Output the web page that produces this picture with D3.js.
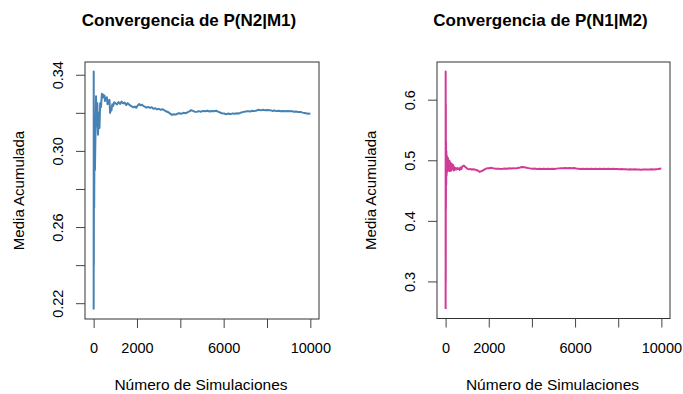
<!DOCTYPE html>
<html>
<head>
<meta charset="utf-8">
<script src="https://cdn.jsdelivr.net/npm/d3@7"></script>
<style>
  html, body { margin: 0; padding: 0; background: #fff; }
  svg { display: block; font-family: "Liberation Sans", Arial, sans-serif; }
</style>
</head>
<body>
<svg id="chart" width="683" height="394"></svg>
<script>
// Running mean of P(N2|M1) by number of simulations
const simsN2M1 = [1, 3, 8, 15, 25, 40, 60, 80, 110, 140, 170, 200, 240, 270, 300, 340, 380, 420, 450, 470, 500, 520, 550, 580, 610, 640, 670, 700, 730, 760, 790, 820, 860, 900, 950,
  1000, 1080, 1150, 1220, 1290, 1360, 1430, 1500, 1570, 1640, 1700, 1760, 1830, 1900, 1960, 2030, 2100, 2160, 2230, 2300, 2370, 2440, 2520, 2600, 2680, 2760, 2850, 2930,
  3010, 3100, 3190, 3280, 3370, 3450, 3530, 3620, 3700, 3790, 3870, 3960, 4050, 4140, 4230, 4320, 4420, 4500, 4580, 4660, 4760, 4850, 4950,
  5050, 5150, 5250, 5350, 5450, 5550, 5650, 5740, 5830, 5920, 6020, 6120, 6220, 6320, 6420, 6520, 6620, 6720, 6820, 6920,
  7020, 7120, 7220, 7320, 7420, 7520, 7620, 7720, 7820, 7920, 8020, 8140, 8240, 8340, 8440, 8540, 8640, 8740, 8840, 8940,
  9040, 9140, 9240, 9340, 9440, 9540, 9640, 9740, 9840, 9920, 10000];
const meanN2M1 = [0.2167, 0.3417, 0.2400, 0.3000, 0.2700, 0.3100, 0.2900, 0.3050, 0.3287, 0.3130, 0.3250, 0.3085, 0.3200, 0.3120, 0.3250, 0.3230, 0.3300, 0.3280, 0.3295, 0.3285, 0.3290, 0.3262, 0.3278, 0.3270, 0.3282, 0.3245, 0.3265, 0.3255, 0.3268, 0.3200, 0.3225, 0.3212, 0.3245, 0.3236, 0.3255,
  0.3252, 0.3244, 0.3256, 0.3247, 0.3259, 0.3249, 0.3254, 0.3241, 0.3251, 0.3243, 0.3238, 0.3234, 0.3229, 0.3233, 0.3226, 0.3238, 0.3246, 0.3240, 0.3243, 0.3235, 0.3232, 0.3227, 0.3231, 0.3226, 0.3229, 0.3221, 0.3224, 0.3218,
  0.3221, 0.3216, 0.3219, 0.3212, 0.3207, 0.3203, 0.3196, 0.3189, 0.3193, 0.3191, 0.3196, 0.3198, 0.3195, 0.3200, 0.3198, 0.3202, 0.3208, 0.3214, 0.3210, 0.3206, 0.3205, 0.3209, 0.3206,
  0.3210, 0.3208, 0.3211, 0.3207, 0.3210, 0.3208, 0.3211, 0.3206, 0.3202, 0.3198, 0.3196, 0.3193, 0.3196, 0.3193, 0.3197, 0.3195, 0.3198, 0.3197, 0.3202, 0.3205,
  0.3207, 0.3209, 0.3207, 0.3211, 0.3209, 0.3212, 0.3216, 0.3213, 0.3216, 0.3213, 0.3215, 0.3214, 0.3210, 0.3212, 0.3209, 0.3211, 0.3208, 0.3210, 0.3208, 0.3210,
  0.3208, 0.3209, 0.3206, 0.3207, 0.3204, 0.3205, 0.3201, 0.3199, 0.3197, 0.3195, 0.3196];

// Running mean of P(N1|M2) by number of simulations
const simsN1M2 = [1, 3, 6, 10, 14, 20, 28, 36, 45, 55, 65, 75, 90, 105, 120, 140, 160, 180, 200, 230, 260, 290, 320, 350, 380, 410, 440, 470, 500, 540, 580, 620, 650, 690, 730, 770, 810, 850, 890, 930, 970,
  1020, 1080, 1140, 1200, 1270, 1340, 1410, 1480, 1540, 1580, 1630, 1690, 1750, 1810, 1880, 1950, 2020, 2100, 2180, 2260, 2350, 2450, 2550, 2650, 2750, 2850, 2950,
  3050, 3150, 3250, 3350, 3450, 3550, 3650, 3750, 3850, 3950, 4050, 4150, 4250, 4350, 4450, 4550, 4650, 4750, 4850, 4950,
  5050, 5150, 5250, 5350, 5450, 5550, 5650, 5750, 5850, 5950, 6050, 6150, 6250, 6350, 6450, 6550, 6650, 6750, 6850, 6950,
  7050, 7150, 7250, 7350, 7450, 7550, 7650, 7750, 7850, 7950, 8050, 8150, 8250, 8350, 8450, 8550, 8650, 8750, 8850, 8950,
  9050, 9150, 9250, 9350, 9450, 9550, 9650, 9750, 9850, 9930, 10000];
const meanN1M2 = [0.2545, 0.6465, 0.3000, 0.5930, 0.4200, 0.5300, 0.4600, 0.5150, 0.4750, 0.5080, 0.4800, 0.5050, 0.4820, 0.5040, 0.4830, 0.5000, 0.4840, 0.4990, 0.4820, 0.4960, 0.4830, 0.4940, 0.4850, 0.4920, 0.4830, 0.4880, 0.4845, 0.4870, 0.4850, 0.4870, 0.4855, 0.4868, 0.4840, 0.4880, 0.4855, 0.4895, 0.4905, 0.4912, 0.4895, 0.4885, 0.4872,
  0.4858, 0.4850, 0.4857, 0.4845, 0.4852, 0.4846, 0.4840, 0.4832, 0.4818, 0.4808, 0.4816, 0.4823, 0.4838, 0.4850, 0.4862, 0.4870, 0.4868, 0.4876, 0.4870, 0.4863, 0.4858, 0.4862, 0.4856, 0.4860, 0.4865, 0.4861, 0.4867,
  0.4864, 0.4869, 0.4866, 0.4873, 0.4880, 0.4888, 0.4883, 0.4877, 0.4870, 0.4864, 0.4859, 0.4862, 0.4856, 0.4860, 0.4855, 0.4859, 0.4856, 0.4860, 0.4855, 0.4859,
  0.4856, 0.4862, 0.4866, 0.4870, 0.4867, 0.4873, 0.4869, 0.4874, 0.4868, 0.4871, 0.4863, 0.4860, 0.4856, 0.4859, 0.4855, 0.4858, 0.4855, 0.4859, 0.4856, 0.4860,
  0.4857, 0.4860, 0.4856, 0.4859, 0.4855, 0.4858, 0.4856, 0.4859, 0.4855, 0.4857, 0.4852, 0.4855, 0.4850, 0.4853, 0.4848, 0.4851, 0.4847, 0.4850, 0.4846, 0.4849,
  0.4845, 0.4848, 0.4846, 0.4849, 0.4847, 0.4850, 0.4849, 0.4853, 0.4856, 0.4860, 0.4862];

// Axis ticks and the labels R keeps after dropping overlapping ones
const xTicks = [0, 2000, 4000, 6000, 8000, 10000];
const xTickLabels = ["0", "2000", "", "6000", "", "10000"];
const yTicksLeft = [0.22, 0.24, 0.26, 0.28, 0.30, 0.32, 0.34];
const yTickLabelsLeft = ["0.22", "", "0.26", "", "0.30", "", "0.34"];
const yTicksRight = [0.3, 0.4, 0.5, 0.6];
const yTickLabelsRight = ["0.3", "0.4", "0.5", "0.6"];

const titles = ["Convergencia de P(N2|M1)", "Convergencia de P(N1|M2)"];
const xTitle = "Número de Simulaciones";
const yTitle = "Media Acumulada";

const svg = d3.select("#chart");

const panels = [
  { box: [85, 62, 319, 319], sims: simsN2M1, means: meanN2M1, color: "#4682B4",
    title: titles[0], yTicks: yTicksLeft, yLabels: yTickLabelsLeft },
  { box: [437, 62, 670, 318.5], sims: simsN1M2, means: meanN1M2, color: "#D23A98",
    title: titles[1], yTicks: yTicksRight, yLabels: yTickLabelsRight }
];

// Pad a range by 4% on each side, as R's default axis style does
function padded([lo, hi]) {
  const d = (hi - lo) * 0.04;
  return [lo - d, hi + d];
}

panels.forEach(p => {
  const [x0, y0, x1, y1] = p.box;
  const x = d3.scaleLinear().domain(padded([1, 10000])).range([x0, x1]);
  const y = d3.scaleLinear().domain(padded(d3.extent(p.means))).range([y1, y0]);
  const g = svg.append("g");

  const pts = p.sims.map((s, i) => [s, p.means[i]]);
  g.append("path")
    .datum(pts)
    .attr("fill", "none")
    .attr("stroke", p.color)
    .attr("stroke-width", 2)
    .attr("stroke-linejoin", "round")
    .attr("d", d3.line().x(d => x(d[0])).y(d => y(d[1])));

  g.append("rect")
    .attr("x", x0).attr("y", y0)
    .attr("width", x1 - x0).attr("height", y1 - y0)
    .attr("fill", "none").attr("stroke", "#333").attr("stroke-width", 1);

  // x axis ticks below the box
  const xa = g.append("g").attr("transform", `translate(0,${y1})`)
    .call(d3.axisBottom(x).tickValues(xTicks).tickSize(9).tickSizeOuter(0)
      .tickFormat((d, i) => xTickLabels[i]));
  xa.select(".domain").remove();
  xa.selectAll(".tick line").attr("stroke", "#444");
  xa.selectAll(".tick text").attr("font-size", 14.5).attr("fill", "#000")
    .attr("font-family", "Liberation Sans, Arial, sans-serif").attr("dy", null).attr("y", 34);

  // y axis ticks left of the box, labels turned vertical
  const ya = g.append("g").attr("transform", `translate(${x0},0)`)
    .call(d3.axisLeft(y).tickValues(p.yTicks).tickSize(9).tickSizeOuter(0)
      .tickFormat((d, i) => p.yLabels[i]));
  ya.select(".domain").remove();
  ya.selectAll(".tick line").attr("stroke", "#444");
  ya.selectAll(".tick text").attr("font-size", 14.5).attr("fill", "#000")
    .attr("font-family", "Liberation Sans, Arial, sans-serif")
    .attr("x", null).attr("dy", null)
    .attr("text-anchor", "middle")
    .attr("transform", "translate(-22,0) rotate(-90)");

  const cx = (x0 + x1) / 2;
  g.append("text").attr("x", cx - 13).attr("y", 26)
    .attr("text-anchor", "middle").attr("font-size", 17).attr("font-weight", "bold")
    .text(p.title);

  g.append("text").attr("x", cx - 1).attr("y", 390)
    .attr("text-anchor", "middle").attr("font-size", 15.5)
    .text(xTitle);

  g.append("text")
    .attr("transform", `translate(${x0 - 61},${(y0 + y1) / 2}) rotate(-90)`)
    .attr("text-anchor", "middle").attr("font-size", 15)
    .text(yTitle);
});
</script>
</body>
</html>
